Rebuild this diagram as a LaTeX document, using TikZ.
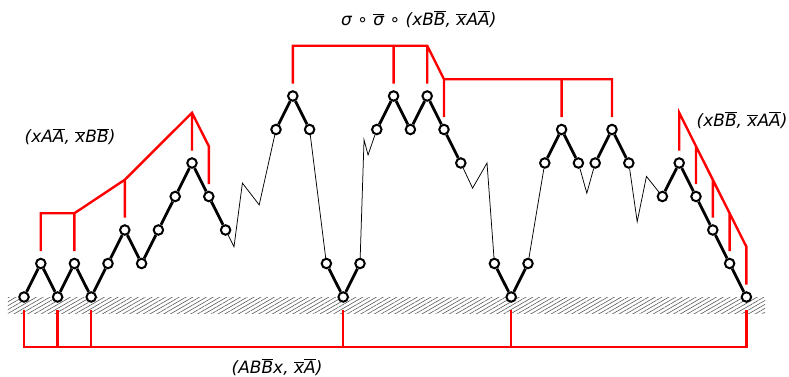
\documentclass[tikz,border=0pt]{standalone}
\usepackage{fontspec}
\setmainfont{DejaVu Sans}
\usetikzlibrary{calc, patterns.meta, positioning}
\newcommand{\ovl}[1]{\ensuremath{\overline{\mbox{#1}}}}

\begin{document}
\begin{tikzpicture}[
  x=16.8pt, y=33.5pt,
  dot/.style={circle, draw=black, fill=white, line width=2pt,
              minimum size=9.5pt, inner sep=0pt},
  walk/.style={black, line width=2.8pt},
  jag/.style={black, line width=0.75pt},
  tree/.style={red, line width=2.4pt},
  lbl/.style={font=\fontsize{17}{20}\selectfont\itshape, inner sep=0pt}
]
  \useasboundingbox (-24pt,-80pt) rectangle (765pt,297pt);
  \fill[pattern={Lines[angle=30, distance=3.4pt, line width=0.6pt]}, pattern color=black!65]
    (-16pt,-1pt) rectangle (741pt,-17pt);

  \foreach \i/\h in {0/0,1/1,2/0,3/1,4/0,5/1,6/2,7/1,8/2,9/3,10/4,11/3,12/2,
                     15/5,16/6,17/5,18/1,19/0,20/1,21/5,22/6,23/5,24/6,25/5,26/4,
                     28/1,29/0,30/1,31/4,32/5,33/4,34/4,35/5,36/4,
                     38/3,39/4,40/3,41/2,42/1,43/0}
    \node[dot] (v\i) at (\i,\h) {};
  \foreach \i in {1,3,6,10,11,16,22,24,25,32,35,39,40,41,42,43} {
    \coordinate (j\i) at ($(v\i)+(0,1.5)$);
    \coordinate (s\i) at ($(v\i)+(0,0.37)$);
  }
  \foreach \i in {0,2,4,19,29,43} {
    \coordinate (k\i) at ($(v\i)+(0,-1.5)$);
    \coordinate (t\i) at ($(v\i)+(0,-0.39)$);
  }

  \draw[walk] (v0) -- (v1) -- (v2) -- (v3) -- (v4) -- (v5) -- (v6) -- (v7)
              -- (v8) -- (v9) -- (v10) -- (v11) -- (v12);
  \draw[walk] (v15) -- (v16) -- (v17);
  \draw[walk] (v18) -- (v19) -- (v20);
  \draw[walk] (v21) -- (v22) -- (v23) -- (v24) -- (v25) -- (v26);
  \draw[walk] (v28) -- (v29) -- (v30);
  \draw[walk] (v31) -- (v32) -- (v33);
  \draw[walk] (v34) -- (v35) -- (v36);
  \draw[walk] (v38) -- (v39) -- (v40) -- (v41) -- (v42) -- (v43);

  \draw[jag] (v12) -- (12.5,1.5) -- (13,3.4) -- (14,2.75) -- (v15);
  \draw[jag] (v17) -- (v18);
  \draw[jag] (v20) -- (20.24,4.69) -- (20.48,4.24) -- (v21);
  \draw[jag] (v26) -- (26.7,3.25) -- (27.56,4) -- (v28);
  \draw[jag] (v30) -- (v31);
  \draw[jag] (v33) -- (33.5,3.1) -- (v34);
  \draw[jag] (v36) -- (36.5,2.25) -- (37.05,3.6) -- (v38);

  \draw[tree] (s1) -- (j1) -- (j3) -- (j6) -- (j10) -- (j11) -- (s11)
              (j3) -- (s3) (j6) -- (s6) (j10) -- (s10);
  \draw[tree] (s16) -- (j16) -- (j24) -- (j25) -- (j35) -- (s35)
              (j22) -- (s22) (j24) -- (s24) (j25) -- (s25) (j32) -- (s32);
  \draw[tree] (s39) -- (j39) -- (j43) -- (s43)
              (j40) -- (s40) (j41) -- (s41) (j42) -- (s42);
  \draw[tree] (t0) -- (k0) -- (k43) -- (t43)
              (k2) -- (t2) (k4) -- (t4) (k19) -- (t19) (k29) -- (t29);

  \node[lbl] (lblTop) at (23.5,8.3) {σ ∘ \ovl{σ} ∘ (xB\ovl{B}, \ovl{x}A\ovl{A})};
  \node[lbl] (lblLeft) at (2.74,4.78) {(xA\ovl{A}, \ovl{x}B\ovl{B})};
  \node[lbl] (lblRight) at (42.74,5.28) {(xB\ovl{B}, \ovl{x}A\ovl{A})};
  \node[lbl] (lblBottom) at (15.06,-2.09) {(AB\ovl{B}x, \ovl{x}\ovl{A})};
\end{tikzpicture}
\end{document}
